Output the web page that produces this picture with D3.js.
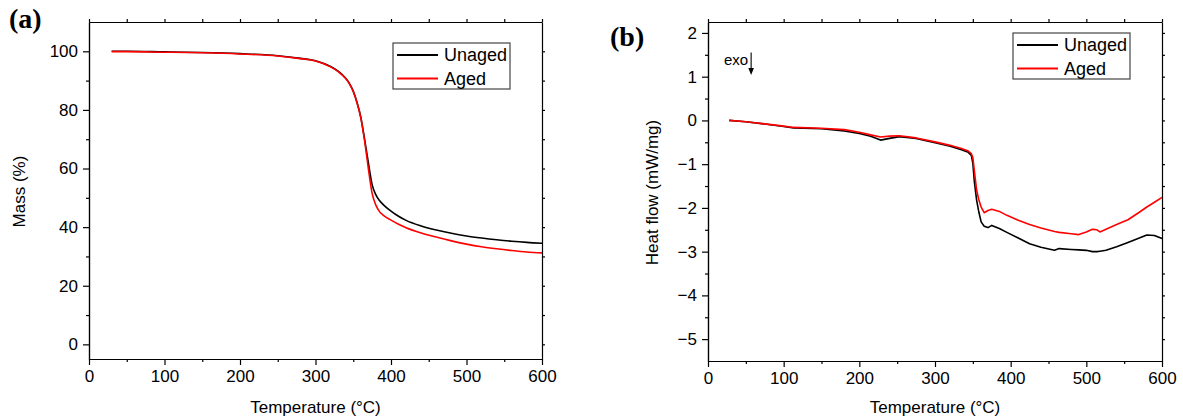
<!DOCTYPE html>
<html>
<head>
<meta charset="utf-8">
<script src="https://cdn.jsdelivr.net/npm/d3@7"></script>
<style>
body { margin: 0; background: #fff; }
text { font-family: Arial, "Liberation Sans", sans-serif; fill: #000; }
.panel-label { font-family: "Times New Roman", "Liberation Serif", serif; font-weight: bold; }
</style>
</head>
<body>
<svg id="chart" width="1183" height="420"></svg>
<script>
// (a) TGA mass loss
var tgaTemp   = [30, 50, 100, 150, 200, 250, 280, 300, 320, 330, 340, 345, 350, 355, 360, 365, 370, 375, 380, 385, 390, 400, 410, 420, 440, 460, 480, 500, 520, 540, 560, 580, 600];
var tgaUnaged = [100, 100, 99.8, 99.6, 99.2, 98.5, 97.6, 96.8, 94.8, 93.2, 90.8, 89, 86.4, 82.5, 77.5, 70, 62, 54.5, 51, 49, 47.6, 45.5, 43.7, 42.3, 40.4, 39, 37.9, 37, 36.3, 35.7, 35.2, 34.8, 34.5];
var tgaAged   = [99.9, 99.9, 99.7, 99.5, 99.1, 98.4, 97.5, 96.7, 94.7, 93.1, 90.7, 88.9, 86.3, 82.4, 77.3, 69.5, 60, 51.5, 47.5, 45.2, 44, 42.4, 41, 39.8, 38, 36.6, 35.3, 34.2, 33.3, 32.6, 32, 31.5, 31.2];

// (b) DSC heat flow
var dscTemp   = [28, 50, 75, 100, 113, 150, 180, 200, 215, 228, 240, 253, 275, 300, 320, 335, 344, 348, 350, 352, 355, 358, 361, 365, 370, 375, 385, 395, 410, 425, 440, 458, 464, 480, 490, 500, 508, 514, 518, 526, 540, 555, 570, 580, 590, 600];
var dscUnaged = [0, -0.03, -0.08, -0.14, -0.17, -0.19, -0.24, -0.30, -0.36, -0.45, -0.41, -0.37, -0.41, -0.51, -0.59, -0.67, -0.73, -0.80, -0.98, -1.4, -1.82, -2.1, -2.32, -2.42, -2.45, -2.40, -2.47, -2.56, -2.69, -2.82, -2.90, -2.97, -2.93, -2.95, -2.96, -2.97, -3.0, -3.0, -2.99, -2.97, -2.89, -2.79, -2.69, -2.62, -2.63, -2.70];
var dscAged   = [0, -0.03, -0.08, -0.13, -0.16, -0.18, -0.21, -0.27, -0.33, -0.38, -0.36, -0.35, -0.40, -0.49, -0.57, -0.64, -0.70, -0.76, -0.85, -1.15, -1.59, -1.82, -1.98, -2.11, -2.06, -2.03, -2.08, -2.17, -2.28, -2.38, -2.46, -2.54, -2.56, -2.59, -2.61, -2.55, -2.49, -2.50, -2.55, -2.49, -2.38, -2.27, -2.10, -1.98, -1.87, -1.76];

var xTicks = [0, 100, 200, 300, 400, 500, 600];
var xMinor = [50, 150, 250, 350, 450, 550];
var tgaTicks = [0, 20, 40, 60, 80, 100];
var tgaMinor = [10, 30, 50, 70, 90];
var dscTicks = [-5, -4, -3, -2, -1, 0, 1, 2];
var dscMinor = [-4.5, -3.5, -2.5, -1.5, -0.5, 0.5, 1.5];

var seriesNames = ["Unaged", "Aged"];
var seriesColors = ["#000", "#f00"];

var svg = d3.select("#chart");

function styleAxis(g) {
  g.selectAll("path.domain").attr("stroke", "#000").attr("stroke-width", 1.2);
  g.selectAll("line").attr("stroke", "#000").attr("stroke-width", 1.2);
  g.selectAll("text").style("font-size", "17px").attr("fill", "#000");
}

function drawPanel(p) {
  var x = d3.scaleLinear().domain([0, 600]).range([p.left, p.right]);
  var y = d3.scaleLinear().domain(p.yDomain).range([p.bottom, p.top]);
  var g = svg.append("g");

  // bottom / left with labels, minor ticks in a second pass
  g.append("g").attr("transform", "translate(0," + p.bottom + ")")
    .call(d3.axisBottom(x).tickValues(xTicks).tickSize(6).tickSizeOuter(0).tickPadding(5).tickFormat(d3.format("d")))
    .call(styleAxis);
  g.append("g").attr("transform", "translate(0," + p.bottom + ")")
    .call(d3.axisBottom(x).tickValues(xMinor).tickSize(3).tickSizeOuter(0).tickFormat(""))
    .call(styleAxis);
  g.append("g").attr("transform", "translate(" + p.left + ",0)")
    .call(d3.axisLeft(y).tickValues(p.yTicks).tickSize(6).tickSizeOuter(0).tickPadding(5).tickFormat(d3.format("d")))
    .call(styleAxis);
  g.append("g").attr("transform", "translate(" + p.left + ",0)")
    .call(d3.axisLeft(y).tickValues(p.yMinor).tickSize(3).tickSizeOuter(0).tickFormat(""))
    .call(styleAxis);

  // top / right: ticks only
  g.append("g").attr("transform", "translate(0," + p.top + ")")
    .call(d3.axisTop(x).tickValues(xTicks.concat(xMinor)).tickSize(3).tickSizeOuter(0).tickFormat(""))
    .call(styleAxis);
  g.append("g").attr("transform", "translate(" + p.right + ",0)")
    .call(d3.axisRight(y).tickValues(p.yTicks.concat(p.yMinor)).tickSize(3).tickSizeOuter(0).tickFormat(""))
    .call(styleAxis);

  p.series.forEach(function(vals, k) {
    var line = d3.line()
      .x(function(d, i) { return x(p.temp[i]); })
      .y(function(d) { return y(d); })
      .curve(p.curve);
    g.append("path")
      .datum(vals)
      .attr("fill", "none")
      .attr("stroke", seriesColors[k])
      .attr("stroke-width", 1.6)
      .attr("stroke-linejoin", "round")
      .attr("d", line);
  });

  // legend
  var lg = g.append("g").attr("transform", "translate(" + p.legend[0] + "," + p.legend[1] + ")");
  lg.append("rect").attr("width", 117).attr("height", 46)
    .attr("fill", "#fff").attr("stroke", "#444").attr("stroke-width", 1.2);
  seriesNames.forEach(function(name, k) {
    var yy = 12 + k * 23.5;
    lg.append("line").attr("x1", 4).attr("x2", 45).attr("y1", yy).attr("y2", yy)
      .attr("stroke", seriesColors[k]).attr("stroke-width", 1.8);
    lg.append("text").attr("x", 51).attr("y", yy).attr("dy", "0.35em")
      .style("font-size", "18px").text(name);
  });

  g.append("text")
    .attr("x", (p.left + p.right) / 2).attr("y", 413)
    .attr("text-anchor", "middle").style("font-size", "17px")
    .text("Temperature (°C)");
  g.append("text")
    .attr("transform", "translate(" + p.yTitleX + "," + ((p.top + p.bottom) / 2 + 1) + ") rotate(-90)")
    .attr("text-anchor", "middle").attr("dy", "0.35em").style("font-size", "17px")
    .text(p.yTitle);
  g.append("text").attr("class", "panel-label")
    .attr("x", p.tag[0]).attr("y", p.tag[1]).style("font-size", "28px")
    .text(p.tagText);

  return {x: x, y: y, g: g};
}

drawPanel({
  left: 89, right: 542, top: 22, bottom: 359,
  yDomain: [-5, 110], yTicks: tgaTicks, yMinor: tgaMinor,
  temp: tgaTemp, series: [tgaUnaged, tgaAged], curve: d3.curveMonotoneX,
  legend: [393, 43], yTitle: "Mass (%)", yTitleX: 19,
  tag: [9, 28], tagText: "(a)"
});

var pb = drawPanel({
  left: 708, right: 1162, top: 22, bottom: 361,
  yDomain: [-5.5, 2.25], yTicks: dscTicks, yMinor: dscMinor,
  temp: dscTemp, series: [dscUnaged, dscAged], curve: d3.curveLinear,
  legend: [1013, 33], yTitle: "Heat flow (mW/mg)", yTitleX: 652,
  tag: [610, 46], tagText: "(b)"
});

// exo arrow
var ax = pb.x(57);
pb.g.append("text").attr("x", ax - 3).attr("y", pb.y(1.38)).attr("dy", "0.35em")
  .attr("text-anchor", "end").style("font-size", "15px").text("exo");
pb.g.append("line").attr("x1", ax).attr("x2", ax)
  .attr("y1", pb.y(1.55)).attr("y2", pb.y(1.12))
  .attr("stroke", "#000").attr("stroke-width", 1.1);
pb.g.append("path")
  .attr("d", "M" + (ax - 2.8) + "," + pb.y(1.2) + "L" + (ax + 2.8) + "," + pb.y(1.2) + "L" + ax + "," + pb.y(1.04) + "Z")
  .attr("fill", "#000");
</script>
</body>
</html>
